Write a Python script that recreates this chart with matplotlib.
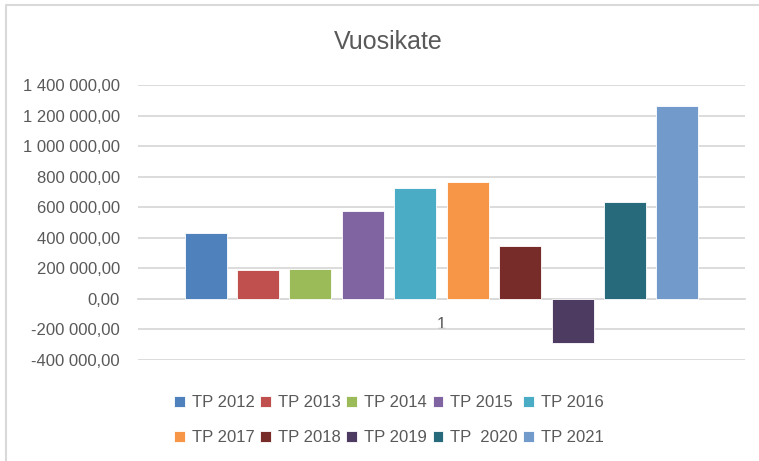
import numpy as np
import matplotlib
matplotlib.use('Agg')
from matplotlib import pyplot as plt
from matplotlib.lines import Line2D

# data
labels = ['TP 2012', 'TP 2013', 'TP 2014', 'TP 2015', 'TP 2016',
          'TP 2017', 'TP 2018', 'TP 2019', 'TP  2020', 'TP 2021']
values = [430000, 186000, 197000, 577000, 724000,
          763000, 344000, -288000, 632000, 1265000]
colors = ['#4F81BD', '#C0504D', '#9BBB59', '#8064A2', '#4BACC6',
          '#F79646', '#772C2A', '#4D3B62', '#276A7C', '#729ACA']
yticks = [-400000, -200000, 0, 200000, 400000, 600000,
          800000, 1000000, 1200000, 1400000]
category = '1'

txt = '#595959'
grid = '#D9D9D9'
plt.rcParams['font.family'] = ['Liberation Sans', 'DejaVu Sans']

W, H = 759, 461
fig = plt.figure(figsize=(W / 100, H / 100), dpi=100)
ax = fig.add_axes([138 / W, 1 - 360 / H, (745 - 138) / W, (360 - 85) / H])

n = len(values)
x = np.arange(n) - (n - 1) / 2
bars = []
for xi, v, c, lab in zip(x, values, colors, labels):
    b = ax.bar(xi, v, width=0.8, color=c, edgecolor='white', linewidth=0.6,
               label=lab, zorder=3)
    bars.append(b)

ax.set_xlim(-5.79, 5.79)
ax.set_ylim(yticks[0], yticks[-1])
ax.set_yticks(yticks)


def fmt(v):
    s = f'{abs(v):,.2f}'.replace(',', ' ').replace('.', ',')
    return ('-' if v < 0 else '') + s


ax.set_yticklabels([fmt(v) for v in yticks])
ax.tick_params(axis='y', length=0, pad=13, labelsize=12, labelcolor=txt)
ax.yaxis.grid(True, color=grid, linewidth=1.3, zorder=0)

ax.set_xticks([0])
ax.set_xticklabels([category])
ax.tick_params(axis='x', length=0, pad=13, labelsize=12, labelcolor=txt)

for s in ['top', 'right', 'left']:
    ax.spines[s].set_visible(False)
ax.spines['bottom'].set_position(('data', 0))
ax.spines['bottom'].set_color(grid)
ax.spines['bottom'].set_linewidth(1.3)

fig.text(388 / W, 1 - 42 / H, 'Vuosikate', ha='center', va='center',
         fontsize=18, color=txt)

# legend filled row by row (matplotlib fills columns first)
ncol = 5
order = [r * ncol + c for c in range(ncol) for r in range(2)]
fig.legend([bars[i] for i in order], [labels[i] for i in order],
           loc='center', bbox_to_anchor=(389 / W, 1 - 420 / H), ncol=ncol,
           frameon=False, fontsize=12, labelcolor=txt,
           handlelength=0.65, handleheight=0.65, handletextpad=0.4,
           columnspacing=0.35, labelspacing=1.2)

# chart frame (top and left edges visible)
fig.add_artist(Line2D([5.5 / W, 5.5 / W, 1], [0, 1 - 5.5 / H, 1 - 5.5 / H],
                      transform=fig.transFigure, color=grid, linewidth=1.5))

fig.savefig('out.png', dpi=100)
